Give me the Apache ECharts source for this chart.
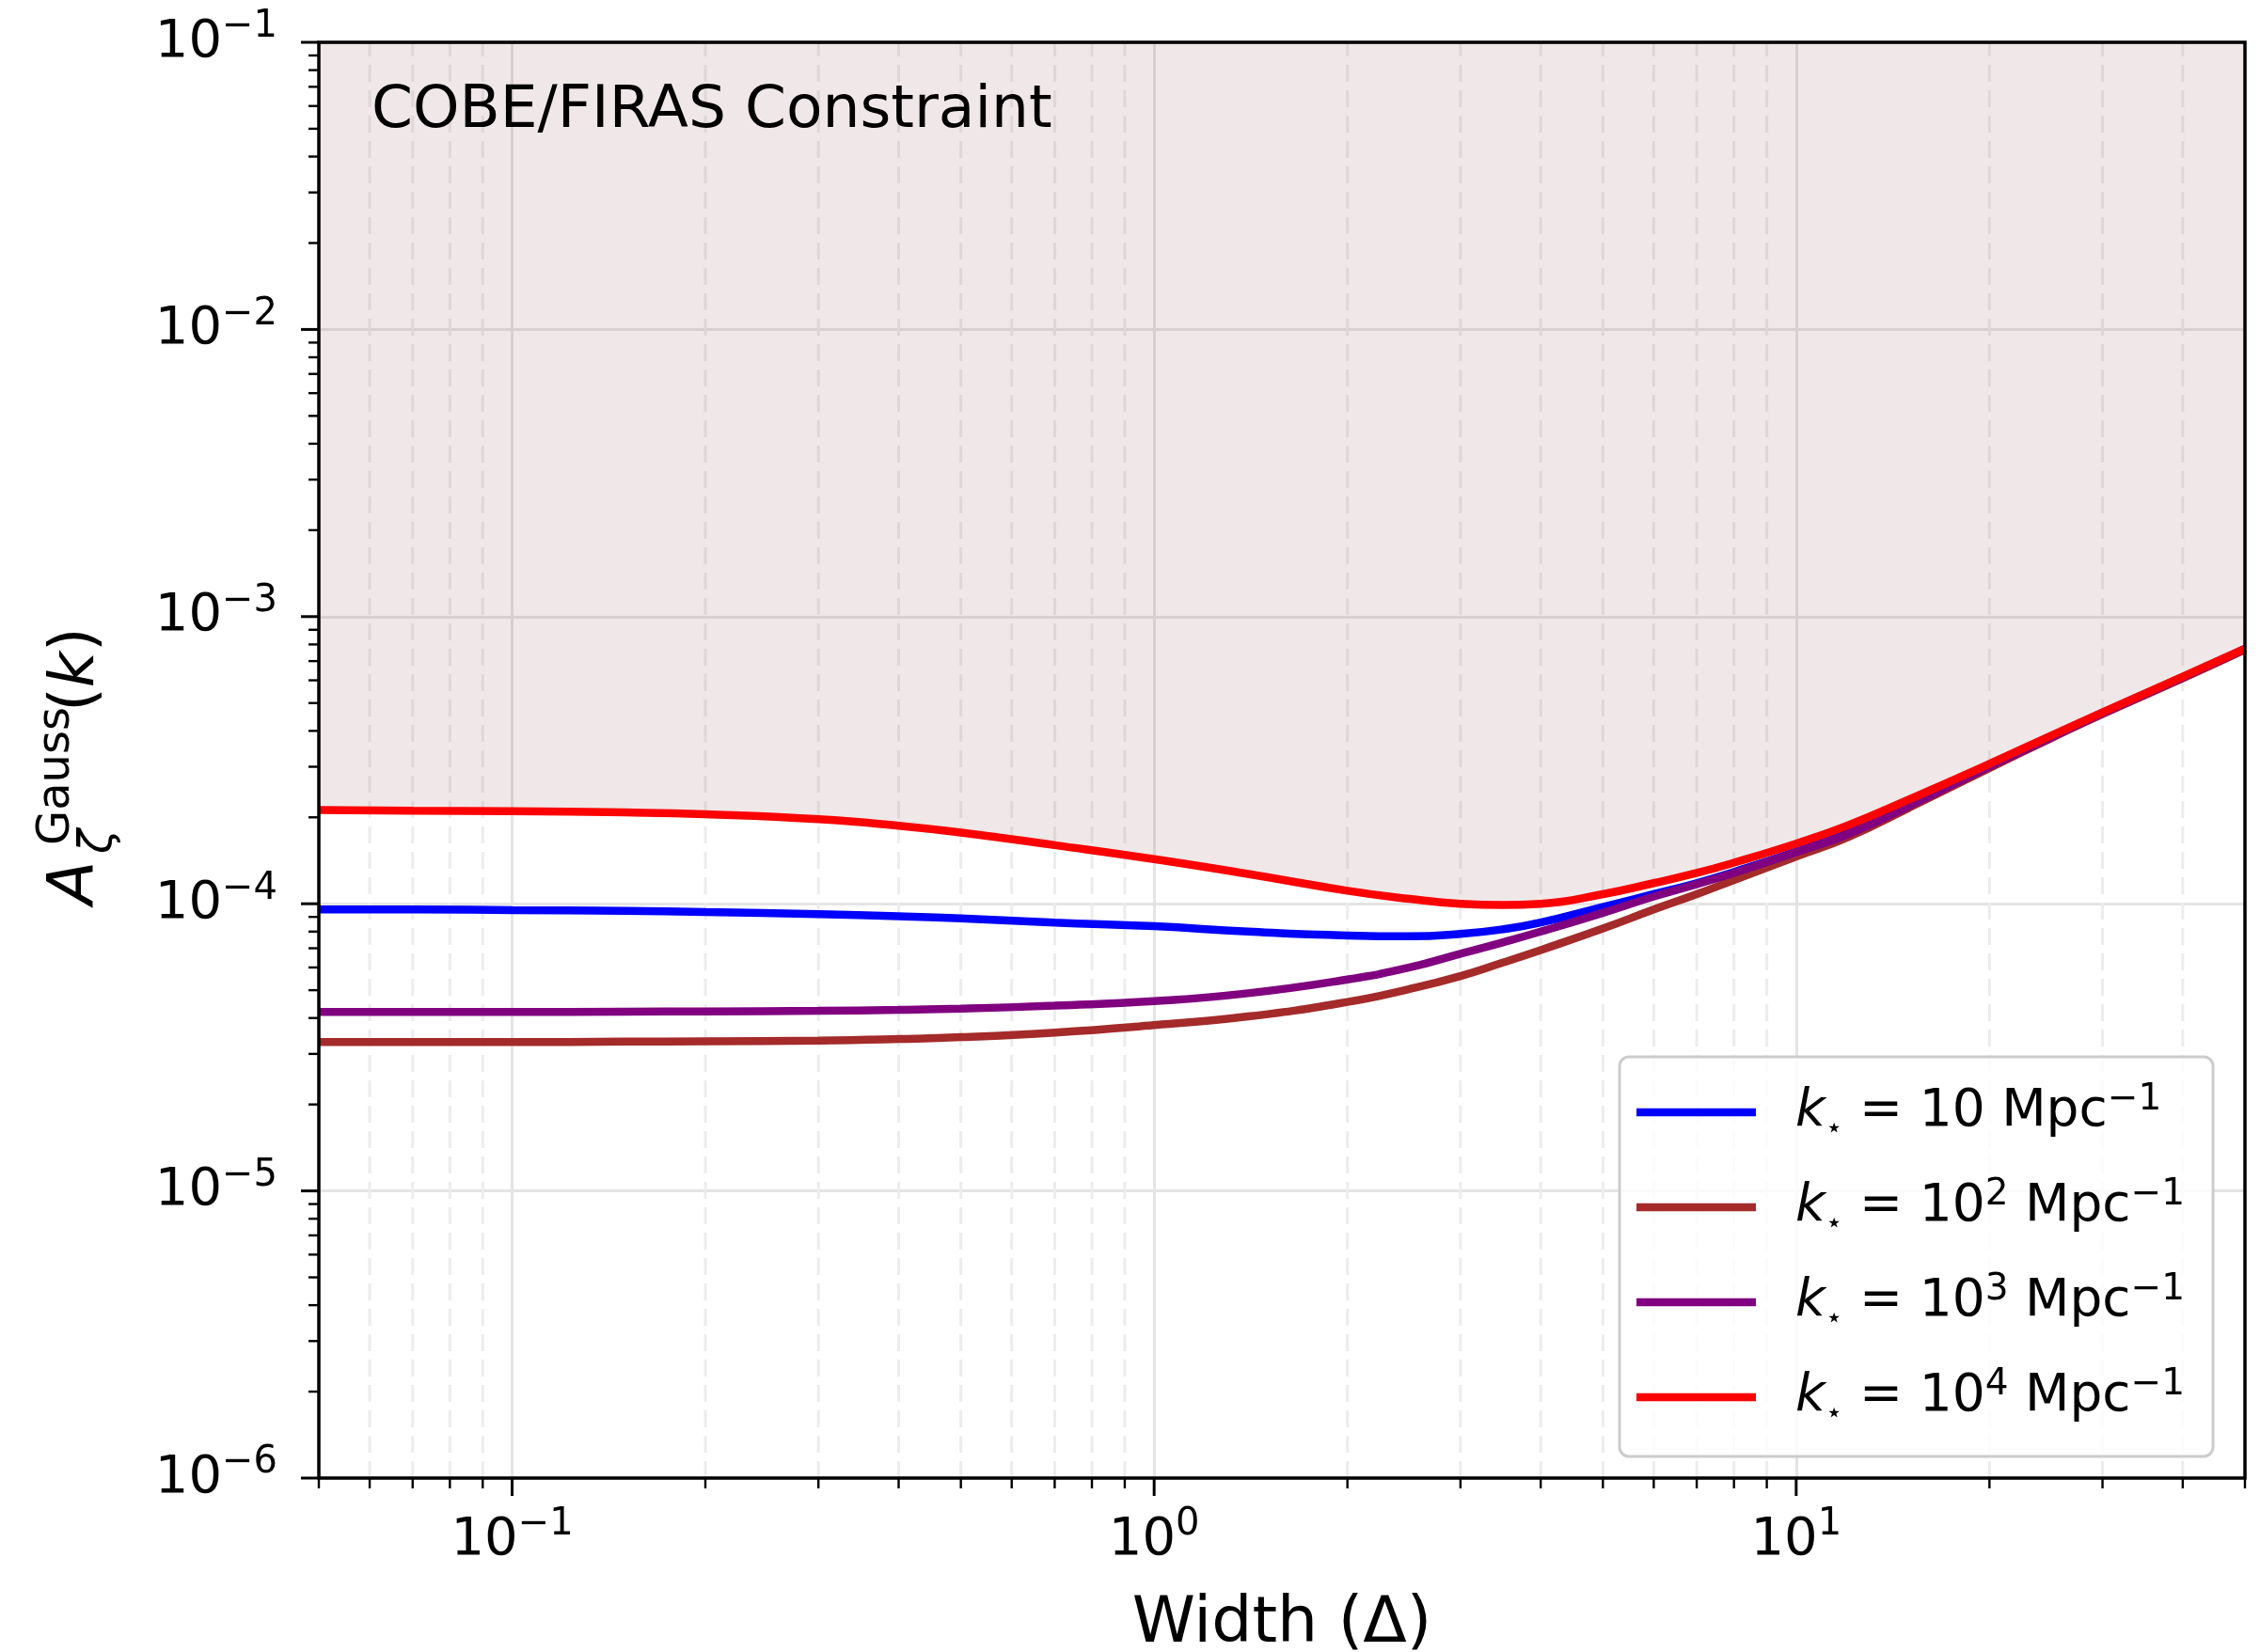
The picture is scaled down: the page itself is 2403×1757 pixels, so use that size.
<!DOCTYPE html>
<html>
<head>
<meta charset="utf-8">
<script src="https://cdn.jsdelivr.net/npm/echarts@6/dist/echarts.min.js"></script>
<style>
  html, body { margin: 0; padding: 0; background: #fff; }
  #chart { width: 2403px; height: 1757px; }
</style>
</head>
<body>
<div id="chart"></div>
<script>
// Gaussian peak amplitude bound versus peak width, one curve per peak scale k*
const widths = [0.05, 0.07, 0.1, 0.15, 0.2, 0.3, 0.4, 0.5, 0.7, 1.0, 1.4, 2.0, 2.5, 3.0, 3.5, 4.0,
                5.0, 6.0, 7.0, 8.0, 10, 12, 15, 20, 25, 30, 40, 50];

const ampK1e1 = [9.55e-5, 9.55e-5, 9.5e-5, 9.45e-5, 9.35e-5, 9.2e-5, 9.05e-5, 8.9e-5, 8.6e-5, 8.35e-5,
                 8.0e-5, 7.75e-5, 7.7e-5, 7.85e-5, 8.15e-5, 8.6e-5, 9.75e-5, 1.08e-4, 1.18e-4, 1.29e-4,
                 1.52e-4, 1.76e-4, 2.22e-4, 3.02e-4, 3.83e-4, 4.62e-4, 6.15e-4, 7.72e-4];
const ampK1e2 = [3.3e-5, 3.3e-5, 3.3e-5, 3.31e-5, 3.32e-5, 3.34e-5, 3.38e-5, 3.43e-5, 3.56e-5, 3.78e-5,
                 4.05e-5, 4.55e-5, 5.05e-5, 5.6e-5, 6.25e-5, 6.9e-5, 8.2e-5, 9.55e-5, 1.08e-4, 1.21e-4,
                 1.46e-4, 1.70e-4, 2.16e-4, 2.97e-4, 3.78e-4, 4.58e-4, 6.1e-4, 7.68e-4];
const ampK1e3 = [4.2e-5, 4.2e-5, 4.2e-5, 4.21e-5, 4.22e-5, 4.24e-5, 4.27e-5, 4.31e-5, 4.42e-5, 4.58e-5,
                 4.88e-5, 5.45e-5, 6.0e-5, 6.7e-5, 7.35e-5, 8.0e-5, 9.3e-5, 1.06e-4, 1.17e-4, 1.28e-4,
                 1.51e-4, 1.74e-4, 2.19e-4, 3.0e-4, 3.8e-4, 4.6e-4, 6.13e-4, 7.7e-4];
const ampK1e4 = [2.12e-4, 2.11e-4, 2.10e-4, 2.08e-4, 2.05e-4, 1.97e-4, 1.87e-4, 1.77e-4, 1.6e-4, 1.43e-4,
                 1.27e-4, 1.11e-4, 1.04e-4, 1.0e-4, 0.99e-4, 1.0e-4, 1.08e-4, 1.18e-4, 1.28e-4, 1.39e-4,
                 1.62e-4, 1.87e-4, 2.31e-4, 3.07e-4, 3.86e-4, 4.64e-4, 6.18e-4, 7.74e-4];

// legend entries: k* = 10^n Mpc^-1
const kStarExponents = [1, 2, 3, 4];
const seriesNames = ['k* = 10 Mpc^-1', 'k* = 10^2 Mpc^-1', 'k* = 10^3 Mpc^-1', 'k* = 10^4 Mpc^-1'];
const seriesColors = ['#0000ff', '#a52a2a', '#800080', '#ff0000'];
const seriesValues = [ampK1e1, ampK1e2, ampK1e3, ampK1e4];

// axis ranges and tick positions
const xRange = [0.05, 50];
const yRange = [1e-6, 1e-1];
const xMajorTicks = [0.1, 1, 10];
const xMinorTicks = [0.05, 0.06, 0.07, 0.08, 0.09, 0.2, 0.3, 0.4, 0.5, 0.6, 0.7, 0.8, 0.9,
                     2, 3, 4, 5, 6, 7, 8, 9, 20, 30, 40, 50];
const yMajorTicks = [1e-6, 1e-5, 1e-4, 1e-3, 1e-2, 1e-1];
const yMinorMantissas = [2, 3, 4, 5, 6, 7, 8, 9];
const yMinorTicks = [];
yMajorTicks.slice(0, -1).forEach(d => yMinorMantissas.forEach(m => yMinorTicks.push(+(m * d).toPrecision(3))));

const FONT = 'DejaVu Sans';
const INK = '#000';
const FILL = 'rgba(128, 64, 64, 0.12)';
const GRID_MAJOR = '#e4e4e4';
const GRID_MINOR = '#ececec';
const LINE_W = 8.5;
const SMOOTH = 0.5;

const toPairs = vals => widths.map((w, i) => [w, vals[i]]);

function powLabel(v) {
  const e = Math.log10(v);
  const r = Math.round(e);
  if (Math.abs(e - r) > 1e-6) return '';
  return '{b|10}{s|' + String(r).replace('-', '\u2212') + '}';
}
const tickRich = {
  b: { fontFamily: FONT, fontSize: 56, lineHeight: 72, color: INK },
  s: { fontFamily: FONT, fontSize: 40, lineHeight: 39, verticalAlign: 'top', color: INK }
};

// tick marks: [x, y, axis (0 = x, 1 = y), major flag]
const tickData = [];
xMajorTicks.forEach(v => tickData.push([v, yRange[0], 0, 1]));
xMinorTicks.forEach(v => tickData.push([v, yRange[0], 0, 0]));
yMajorTicks.forEach(v => tickData.push([xRange[0], v, 1, 1]));
yMinorTicks.forEach(v => tickData.push([xRange[0], v, 1, 0]));

const minorGridData = xMinorTicks.filter(v => v > xRange[0] && v < xRange[1]).map(v => [v, yRange[0]]);

const chart = echarts.init(document.getElementById('chart'), null, { renderer: 'canvas' });

const lineSeries = seriesNames.map((name, i) => ({
  name,
  type: 'line',
  data: toPairs(seriesValues[i]),
  symbol: 'none',
  showSymbol: false,
  smooth: SMOOTH,
  lineStyle: { color: seriesColors[i], width: LINE_W },
  itemStyle: { color: seriesColors[i] },
  z: 3,
  silent: true
}));

function legendText(name) {
  const n = kStarExponents[seriesNames.indexOf(name)];
  const pow = n === 1 ? '{t| = 10 Mpc}' : '{t| = 10}{sp|' + n + '}{t| Mpc}';
  return '{k|k}{st|\u22c6}' + pow + '{sp|\u22121}';
}

chart.setOption({
  animation: false,
  backgroundColor: '#fff',
  grid: {
    left: 339, right: 16, top: 45, bottom: 185,
    outerBoundsMode: 'none',
    containLabel: false,
    show: false
  },
  xAxis: {
    type: 'log', logBase: 10, min: xRange[0], max: xRange[1],
    name: 'Width (\u0394)', nameLocation: 'middle', nameGap: 122,
    nameTextStyle: { fontFamily: FONT, fontSize: 68, color: INK },
    axisLine: { show: false },
    axisTick: { show: false },
    minorTick: { show: false },
    axisLabel: { formatter: powLabel, rich: tickRich, margin: 30, showMinLabel: true, showMaxLabel: true },
    splitLine: { show: true, lineStyle: { color: GRID_MAJOR, width: 3 } }
  },
  yAxis: {
    type: 'log', logBase: 10, min: yRange[0], max: yRange[1],
    axisLine: { show: false },
    axisTick: { show: false },
    axisLabel: { formatter: powLabel, rich: tickRich, margin: 44 },
    splitLine: { show: true, lineStyle: { color: GRID_MAJOR, width: 3 } }
  },
  legend: {
    data: seriesNames,
    orient: 'vertical',
    left: 1722, top: 1124,
    padding: [26, 30, 30, 18],
    icon: 'rect',
    itemWidth: 127, itemHeight: LINE_W, itemGap: 35,
    backgroundColor: 'rgba(255,255,255,0.8)',
    borderColor: '#cccccc', borderWidth: 3, borderRadius: 10,
    selectedMode: false,
    formatter: legendText,
    textStyle: {
      fontFamily: FONT, fontSize: 55, color: INK,
      rich: {
        k: { fontFamily: FONT, fontStyle: 'italic', fontSize: 55, lineHeight: 66, color: INK, padding: [0, 0, 0, 37] },
        st: { fontFamily: FONT, fontSize: 30, lineHeight: 22, verticalAlign: 'bottom', color: INK },
        t: { fontFamily: FONT, fontSize: 55, lineHeight: 66, color: INK },
        sp: { fontFamily: FONT, fontSize: 39, lineHeight: 32, verticalAlign: 'top', color: INK }
      }
    }
  },
  graphic: [
    {
      type: 'text', left: 395, top: 87, z: 10,
      style: { text: 'COBE/FIRAS Constraint', font: '63px "DejaVu Sans"', fill: INK }
    },
    {
      type: 'group', x: 105, y: 962, rotation: Math.PI / 2, z: 10,
      children: [
        { type: 'text', x: 0, y: -24, style: { text: 'A', font: 'italic 68px "DejaVu Sans"', fill: INK, textVerticalAlign: 'middle', verticalAlign: 'middle' } },
        { type: 'text', x: 54, y: 1, style: { text: '\u03b6', font: 'italic 48px "DejaVu Sans"', fill: INK, textVerticalAlign: 'middle', verticalAlign: 'middle' } },
        { type: 'text', x: 63, y: -44, style: { text: 'Gauss', font: '48px "DejaVu Sans"', fill: INK, textVerticalAlign: 'middle', verticalAlign: 'middle' } },
        { type: 'text', x: 205, y: -23, style: {
            text: '{p|(}{k|k}{p|)}', fill: INK, textVerticalAlign: 'middle', verticalAlign: 'middle',
            rich: {
              p: { fontFamily: FONT, fontSize: 66, fill: INK, color: INK },
              k: { fontFamily: FONT, fontSize: 66, fontStyle: 'italic', fill: INK, color: INK }
            }
          } }
      ]
    }
  ],
  series: [
    {
      // dashed minor grid along the width axis
      type: 'custom', name: 'minor-grid', silent: true, z: 1,
      data: minorGridData,
      encode: { x: 0, y: 1 },
      renderItem(params, api) {
        const p0 = api.coord([api.value(0), yRange[0]]);
        const p1 = api.coord([api.value(0), yRange[1]]);
        return {
          type: 'line',
          shape: { x1: p0[0], y1: p0[1], x2: p1[0], y2: p1[1] },
          style: { stroke: GRID_MINOR, lineWidth: 3, lineDash: [18, 9] }
        };
      }
    },
    {
      // shaded excluded region above the upper curve
      type: 'line', name: 'constraint', silent: true, z: 2,
      data: toPairs(ampK1e4),
      symbol: 'none', smooth: SMOOTH,
      lineStyle: { width: 0, color: 'transparent' },
      areaStyle: { origin: 'end', color: FILL, opacity: 1 }
    },
    ...lineSeries,
    {
      // axes frame drawn from the axis extents
      type: 'custom', name: 'frame', silent: true, z: 6, clip: false,
      data: [[xRange[0], yRange[0]]],
      encode: { x: 0, y: 1 },
      renderItem(params, api) {
        const a = api.coord([xRange[0], yRange[1]]);
        const b = api.coord([xRange[1], yRange[0]]);
        return {
          type: 'rect',
          shape: { x: a[0], y: a[1], width: b[0] - a[0], height: b[1] - a[1] },
          style: { fill: 'none', stroke: INK, lineWidth: 3.5 }
        };
      }
    },
    {
      // major and minor tick marks on both log axes
      type: 'custom', name: 'ticks', silent: true, z: 6, clip: false,
      data: tickData,
      dimensions: ['x', 'y', 'axis', 'major'],
      encode: { x: 0, y: 1 },
      renderItem(params, api) {
        const p = api.coord([api.value(0), api.value(1)]);
        const onX = api.value(2) === 0;
        const major = api.value(3) === 1;
        const len = major ? 19 : 11;
        const w = major ? 3 : 2.4;
        return {
          type: 'line',
          shape: onX ? { x1: p[0], y1: p[1], x2: p[0], y2: p[1] + len }
                     : { x1: p[0], y1: p[1], x2: p[0] - len, y2: p[1] },
          style: { stroke: INK, lineWidth: w }
        };
      }
    }
  ]
});
</script>
</body>
</html>
